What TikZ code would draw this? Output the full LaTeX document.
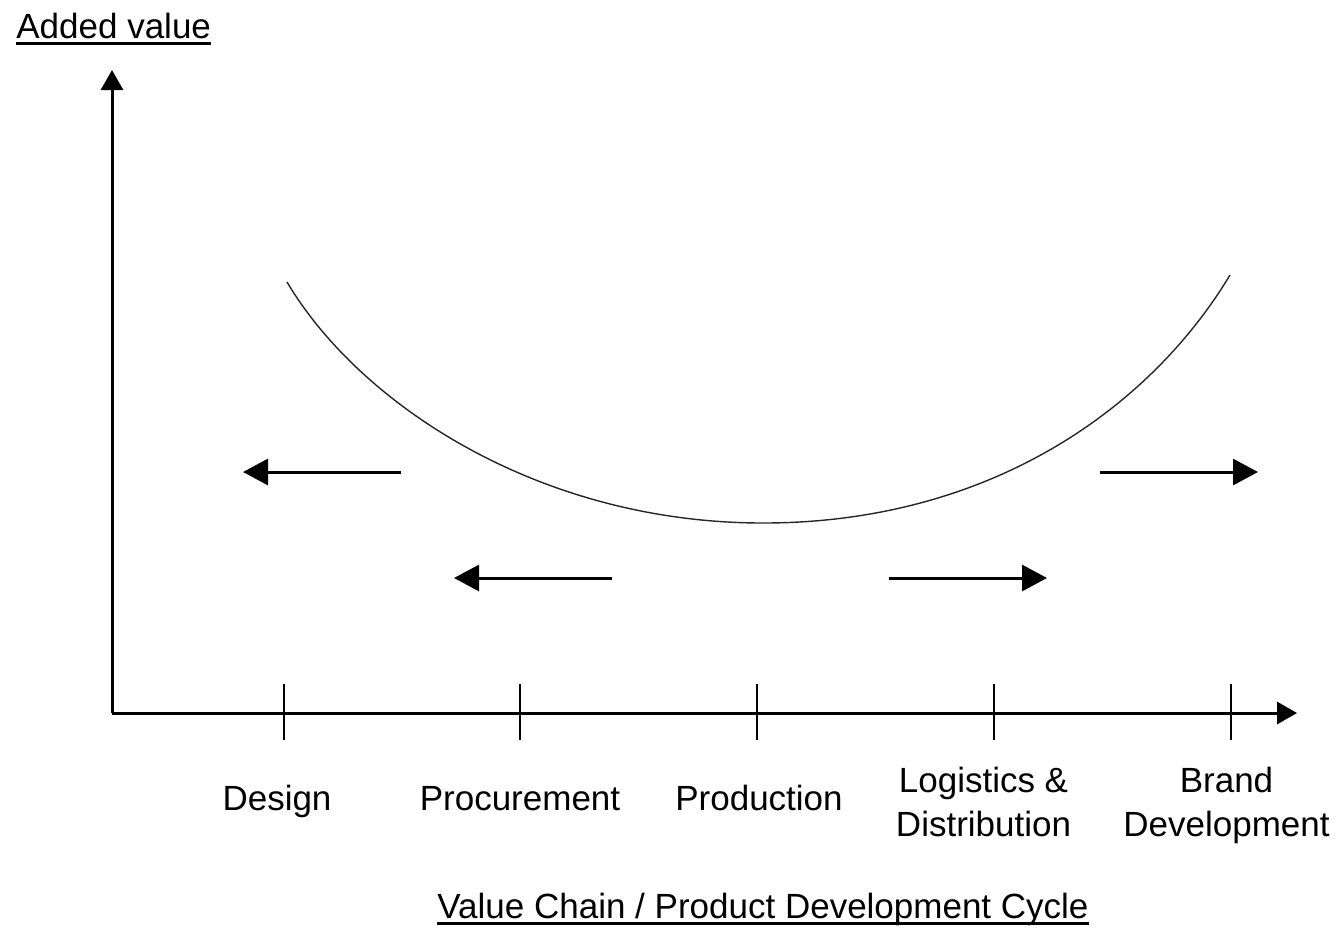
\documentclass[tikz,border=0pt]{standalone}
\usepackage{fontspec}
\setmainfont{Liberation Sans}
\usetikzlibrary{arrows.meta}
\begin{document}
\begin{tikzpicture}[x=0.5pt,y=-0.5pt,
  lbl/.style={inner sep=0pt,anchor=base,font=\fontsize{17.5}{22}\selectfont},
  axisline/.style={line width=1.5pt,-{Triangle[length=10pt,width=11pt]}},
  tickmark/.style={line width=1.3pt},
  shiftarr/.style={line width=1.5pt,-{Triangle[length=12.5pt,width=13pt]}},
  uline/.style={line width=1.5pt},
  curvestyle/.style={line width=0.7pt,black!85}]
\useasboundingbox (0,0) rectangle (1337,927);
% axes
\coordinate (O) at (112,713);
\coordinate (ytip) at (112,70);
\coordinate (xtip) at (1297,713);
\draw[axisline] (O) -- (ytip);
\draw[axisline] (O) -- (xtip);
% ticks
\foreach \i/\x in {1/284,2/520,3/757,4/994,5/1231}{
  \coordinate (t\i a) at (\x,684);
  \coordinate (t\i b) at (\x,740);
  \draw[tickmark] (t\i a) -- (t\i b);
}
% smile curve
\coordinate (cl) at (287,282);
\coordinate (cm) at (763,523);
\coordinate (cr) at (1230,275);
\draw[curvestyle] (cl) .. controls (360,405) and (540,523) .. (cm)
                       .. controls (990,523) and (1150,408) .. (cr);
% shift arrows
\coordinate (a1s) at (401,472); \coordinate (a1e) at (243,472);
\coordinate (a2s) at (612,578); \coordinate (a2e) at (454,578);
\coordinate (a3s) at (1100,472); \coordinate (a3e) at (1258,472);
\coordinate (a4s) at (889,578); \coordinate (a4e) at (1047,578);
\draw[shiftarr] (a1s) -- (a1e);
\draw[shiftarr] (a2s) -- (a2e);
\draw[shiftarr] (a3s) -- (a3e);
\draw[shiftarr] (a4s) -- (a4e);
% labels
\node[lbl] (design) at (277,810) {Design};
\node[lbl] (proc) at (520,810) {Procurement};
\node[lbl] (prod) at (759,810) {Production};
\node[lbl] (logi) at (983.5,836) {\setlength{\tabcolsep}{0pt}\begin{tabular}[b]{c}Logistics \&\\Distribution\end{tabular}};
\node[lbl] (brand) at (1226.5,836) {\setlength{\tabcolsep}{0pt}\begin{tabular}[b]{c}Brand\\Development\end{tabular}};
% axis titles
\node[lbl,anchor=base west] (ytitle) at (16,38) {Added value};
\node[lbl] (xtitle) at (763,918) {Value Chain / Product Development Cycle};
\draw[uline] ([yshift=-2.75pt]ytitle.base west) -- ([yshift=-2.75pt]ytitle.base east);
\draw[uline] ([yshift=-2.75pt]xtitle.base west) -- ([yshift=-2.75pt]xtitle.base east);
\end{tikzpicture}
\end{document}
